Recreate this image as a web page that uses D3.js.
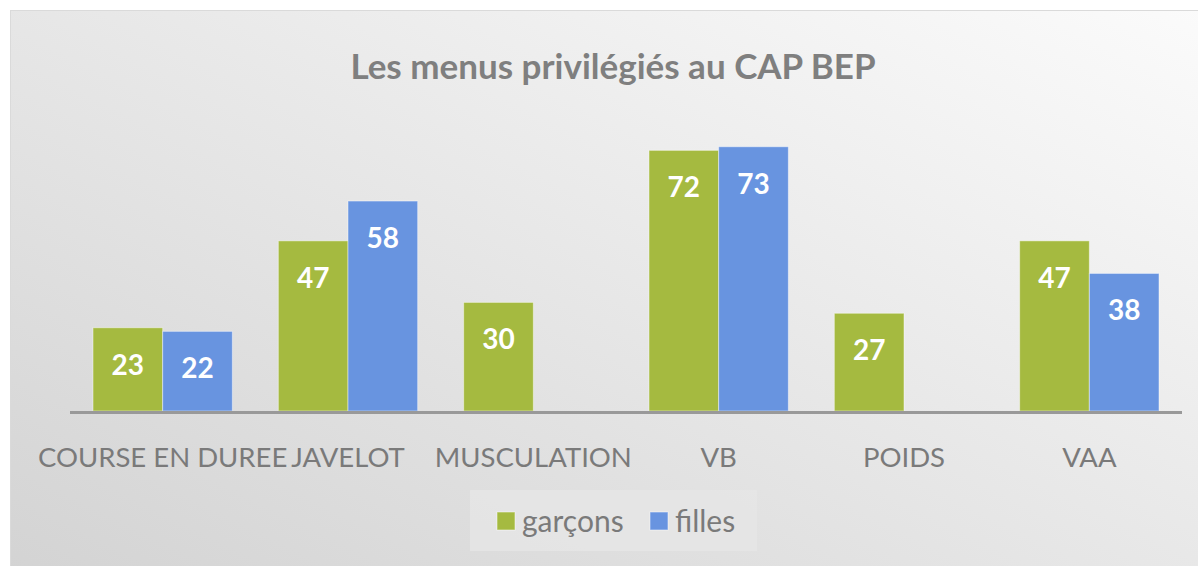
<!DOCTYPE html>
<html>
<head>
<meta charset="utf-8">
<script src="https://cdn.jsdelivr.net/npm/d3@7"></script>
<style>
  body { margin: 0; background: #fff; }
  svg { display: block; }
</style>
</head>
<body>
<svg id="chart" width="1198" height="566"></svg>
<script>
// data
var categories = ["COURSE EN DUREE", "JAVELOT", "MUSCULATION", "VB", "POIDS", "VAA"];
var seriesNames = ["garçons", "filles"];
var garcons = [23, 47, 30, 72, 27, 47];
var filles = [22, 58, null, 73, null, 38];
var colors = ["#a5ba40", "#6894e0"];

var svg = d3.select("#chart");

// background panel with soft gradient
var defs = svg.append("defs");
var grad = defs.append("linearGradient")
    .attr("id", "bg")
    .attr("x1", "100%").attr("y1", "0%")
    .attr("x2", "0%").attr("y2", "100%");
grad.append("stop").attr("offset", "0%").attr("stop-color", "#fbfbfb");
grad.append("stop").attr("offset", "100%").attr("stop-color", "#d2d2d2");

svg.append("rect")
    .attr("x", 10.5).attr("y", 10.5)
    .attr("width", 1200).attr("height", 600)
    .attr("fill", "url(#bg)")
    .attr("stroke", "#dadada")
    .attr("stroke-width", 1);

var baseline = 411;
var x = d3.scaleBand()
    .domain(categories)
    .range([70, 1182]);

var inner = d3.scaleBand()
    .domain(seriesNames)
    .range([0, x.bandwidth()])
    .paddingOuter(0.33)
    .paddingInner(0);

var y = d3.scaleLinear()
    .domain([0, 80])
    .range([baseline, baseline - 80 * 3.62]);

// title
svg.append("text")
    .attr("x", 613).attr("y", 79)
    .attr("text-anchor", "middle")
    .style("font-family", "Lato, 'Open Sans', sans-serif")
    .style("font-weight", "bold")
    .style("font-size", "35px")
    .style("fill", "#7f7f7f")
    .text("Les menus privilégiés au CAP BEP");

var rows = categories.map(function(c, i) {
    return { cat: c, values: [garcons[i], filles[i]] };
});

var groups = svg.selectAll(".group")
    .data(rows)
  .enter().append("g")
    .attr("class", "group")
    .attr("transform", function(d) { return "translate(" + x(d.cat) + ",0)"; });

var bars = groups.selectAll(".bar")
    .data(function(d) {
        return d.values.map(function(v, i) { return { s: seriesNames[i], v: v, i: i }; })
            .filter(function(e) { return e.v != null; });
    })
  .enter().append("g")
    .attr("class", "bar");

bars.append("rect")
    .attr("x", function(d) { return inner(d.s); })
    .attr("y", function(d) { return y(d.v); })
    .attr("width", inner.bandwidth())
    .attr("height", function(d) { return baseline - y(d.v); })
    .attr("fill", function(d) { return colors[d.i]; })
    .attr("stroke", "rgba(255,255,255,0.45)")
    .attr("stroke-width", 1);

bars.append("text")
    .attr("x", function(d) { return inner(d.s) + inner.bandwidth() / 2; })
    .attr("y", function(d) { return y(d.v) + 47; })
    .attr("text-anchor", "middle")
    .style("font-family", "Lato, 'Open Sans', sans-serif")
    .style("font-weight", "bold")
    .style("font-size", "28px")
    .style("fill", "#fff")
    .text(function(d) { return d.v; });

// axis
var xAxis = d3.axisBottom(x).tickSize(0).tickPadding(0);
var ax = svg.append("g")
    .attr("transform", "translate(0," + baseline + ")")
    .call(xAxis);
ax.select(".domain")
    .attr("stroke", "#999")
    .attr("stroke-width", 3)
    .attr("d", "M70,1.5H1182");
ax.selectAll("text")
    .attr("dy", 0)
    .attr("y", 56)
    .style("font-family", "Lato, 'Open Sans', sans-serif")
    .style("font-size", "27.5px")
    .style("fill", "#7a7a7a");

// legend
var legend = svg.append("g");
legend.append("rect")
    .attr("x", 470).attr("y", 490)
    .attr("width", 287).attr("height", 61)
    .attr("fill", "#e6e6e6")
    .attr("opacity", 0.8);

var legendX = [497, 650];
var items = legend.selectAll(".item")
    .data(seriesNames)
  .enter().append("g")
    .attr("transform", function(d, i) { return "translate(" + legendX[i] + ",512)"; });
items.append("rect")
    .attr("width", 18).attr("height", 18)
    .attr("fill", function(d, i) { return colors[i]; })
    .attr("stroke", "rgba(255,255,255,0.5)");
items.append("text")
    .attr("x", 25).attr("y", 20)
    .style("font-family", "Lato, 'Open Sans', sans-serif")
    .style("font-size", "30px")
    .style("fill", "#7a7a7a")
    .text(function(d) { return d; });
</script>
</body>
</html>
